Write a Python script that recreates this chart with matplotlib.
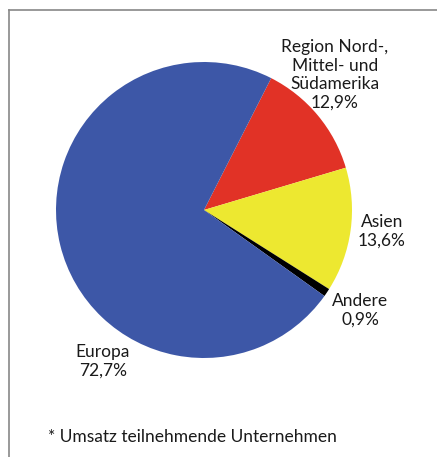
import numpy as np
import matplotlib
matplotlib.use("Agg")
import matplotlib.pyplot as plt
from matplotlib.lines import Line2D

# shares in percent, clockwise starting at the top right
regions = ["Region Nord-,\nMittel- und\nSüdamerika", "Asien", "Andere", "Europa"]
shares = [12.9, 13.6, 0.9, 72.7]
share_labels = ["12,9%", "13,6%", "0,9%", "72,7%"]
colors = ["#e13226", "#ede830", "#000000", "#3d57a7"]
footnote = "* Umsatz teilnehmende Unternehmen"

W, H = 437, 457
fig = plt.figure(figsize=(W / 100, H / 100), dpi=100)
plt.rcParams["font.family"] = ["Lato", "DejaVu Sans"]

# pie centre and radius in pixels
cx, cy, r = 204, 210, 148
ax = fig.add_axes([(cx - r) / W, (H - cy - r) / H, 2 * r / W, 2 * r / H])
ax.pie(shares, colors=colors, startangle=63, counterclock=False,
       wedgeprops=dict(linewidth=0))
ax.set_xlim(-1, 1)
ax.set_ylim(-1, 1)
ax.set_aspect("equal")
ax.axis("off")

# label anchors (pixel centres)
label_pos = [(335, 75), (382, 231), (360, 310), (103, 361)]
for name, lab, (px, py) in zip(regions, share_labels, label_pos):
    fig.text(px / W, 1 - py / H, name + "\n" + lab, ha="center", va="center",
             fontsize=12.5, linespacing=1.2, color="#1a1a1a")

fig.text(48 / W, 1 - 437 / H, footnote, ha="left", va="center",
         fontsize=12.5, color="#1a1a1a")

# frame lines: top and left only
fig.add_artist(Line2D([9 / W, 9 / W], [0, 1 - 10 / H], transform=fig.transFigure,
                      color="#888888", linewidth=1.2))
fig.add_artist(Line2D([9 / W, 1], [1 - 10 / H, 1 - 10 / H], transform=fig.transFigure,
                      color="#888888", linewidth=1.2))

fig.savefig("out.png", dpi=100)
